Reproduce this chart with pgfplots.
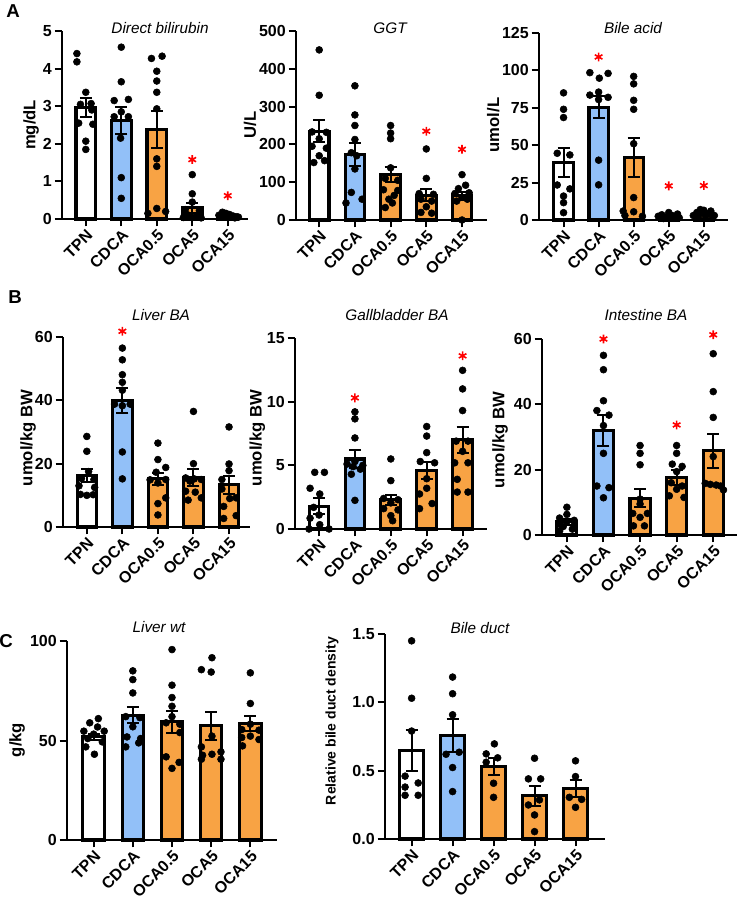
\documentclass[border=0pt]{standalone}
\usepackage{pgfplots}
\pgfplotsset{compat=1.18}
\usepackage{fontspec}
\setmainfont{Liberation Sans}
\definecolor{cblue}{RGB}{146,192,248}
\definecolor{corange}{RGB}{248,163,68}
\newcommand{\bfs}{\bfseries\fontsize{12}{14}\selectfont}
\newcommand{\bfl}{\bfseries\fontsize{12.5}{14}\selectfont}
\newcommand{\its}{\itshape\fontsize{11.5}{13}\selectfont}
\pgfplotsset{
 panel/.style={
  scale only axis, anchor=south west,
  axis lines=left, axis line style={line width=1.5pt,-},
  tick style={line width=1.5pt,black},
  tick align=outside, major tick length=5.5pt,
  xtick={0,1,2,3,4}, xticklabels={TPN,CDCA,OCA0.5,OCA5,OCA15},
  x tick label style={rotate=45, anchor=north east, inner sep=1pt, font=\bfs},
  y tick label style={font=\bfs, inner sep=2pt},
  /pgf/number format/assume math mode=true,
  ymin=0, clip=false,
 },
 bs/.style={ybar, bar shift=0pt, bar width=0.55, draw=black, line width=2.3pt,
   error bars/y dir=both, error bars/y explicit,
   error bars/error bar style={line width=1.5pt,black},
   error bars/error mark options={rotate=90,line width=1.5pt,black,mark size=4.5pt}},
 dots/.style={only marks, mark=*, mark size=2.6pt, black, mark options={fill=black, draw=black}},
 star/.style={only marks, mark=asterisk, mark size=3.3pt, red, mark options={line width=1.2pt}},
}
\begin{document}
\begin{tikzpicture}
\useasboundingbox (0,0) rectangle (554.25pt,-674.25pt);

% ---------------- A1 Direct bilirubin
\begin{axis}[panel, at={(46.5pt,-164.25pt)}, width=139.5pt, height=141pt,
  xmin=-0.67, xmax=4.57, ymax=5, ytick={0,1,2,3,4,5}]
\addplot[bs, fill=white] coordinates {(0,2.97) +- (0,0.26)};
\addplot[bs, fill=cblue] coordinates {(1,2.62) +- (0,0.37)};
\addplot[bs, fill=corange] coordinates {(2,2.38) +- (0,0.50)};
\addplot[bs, fill=corange] coordinates {(3,0.30) +- (0,0.13)};
\addplot[bs, fill=corange] coordinates {(4,0.08) +- (0,0.02)};
\addplot[dots] coordinates {(-0.25,4.40) (-0.25,4.18) (0,3.37) (-0.15,3.05) (0.15,3.07) (0.17,2.90) (-0.2,2.55) (0.2,2.52) (0,2.07) (0,1.85)
 (1,4.57) (1,3.65) (0.8,3.15) (1.2,3.18) (1,2.85) (0.8,2.72) (1.2,2.72) (0.98,2.15) (1,1.10) (1,0.55)
 (1.85,4.27) (2.15,4.33) (2,3.93) (2,3.67) (2,3.37) (2,2.93) (2,1.60) (2,1.40) (2,0.28) (1.75,0.15) (2.25,0.20)
 (3,1.18) (3,0.67) (3,0.45) (2.8,0.25) (3.2,0.22) (2.85,0.12) (3.15,0.10) (3,0.05) (2.75,0.04) (3.25,0.03)
 (3.75,0.10) (3.85,0.18) (3.95,0.15) (4.05,0.12) (4.15,0.08) (4.25,0.06) (3.8,0.05) (4.0,0.04) (4.2,0.03) (4.3,0.05)};
\addplot[star] coordinates {(3,1.58) (4,0.62)};
\end{axis}

% ---------------- A2 GGT
\begin{axis}[panel, at={(222pt,-165pt)}, width=143.25pt, height=141.75pt,
  xmin=-0.65, xmax=4.70, ymax=500, ytick={0,100,200,300,400,500}]
\addplot[bs, fill=white] coordinates {(0,235) +- (0,29)};
\addplot[bs, fill=cblue] coordinates {(1,173) +- (0,30)};
\addplot[bs, fill=corange] coordinates {(2,121) +- (0,20)};
\addplot[bs, fill=corange] coordinates {(3,66) +- (0,15)};
\addplot[bs, fill=corange] coordinates {(4,64) +- (0,11)};
\addplot[dots] coordinates {(0,450) (0,330) (-0.2,233) (0.2,232) (0,215) (-0.2,195) (0.2,190) (0,170) (-0.15,152) (0.15,157)
 (1,355) (1,278) (1,250) (1,213) (0.9,178) (1.05,170) (1,135) (0.9,73) (1.2,55) (0.75,45)
 (2,250) (2,230) (2,215) (2,138) (1.85,110) (2.2,105) (1.8,80) (2.2,78) (2.1,65) (1.95,55) (2.05,45) (1.85,33)
 (3,188) (3,110) (2.8,70) (3.2,68) (2.85,55) (3.15,50) (3,35) (2.85,20) (3.15,18)
 (4,120) (4.1,92) (3.9,83) (4.2,72) (3.8,70) (4,60) (4.15,55) (3.85,50) (4,0)};
\addplot[star] coordinates {(3,235) (4,187)};
\end{axis}

% ---------------- A3 Bile acid
\begin{axis}[panel, at={(404.25pt,-165pt)}, width=141.75pt, height=140.25pt,
  xmin=-0.7, xmax=4.69, ymax=125, ytick={0,25,50,75,100,125}]
\addplot[bs, fill=white] coordinates {(0,38.5) +- (0,9.5)};
\addplot[bs, fill=cblue] coordinates {(1,75.5) +- (0,7.5)};
\addplot[bs, fill=corange] coordinates {(2,42) +- (0,13)};
\addplot[bs, fill=corange] coordinates {(3,2.8) +- (0,0.5)};
\addplot[bs, fill=corange] coordinates {(4,4) +- (0,0.7)};
\addplot[dots] coordinates {(0,85) (0,74) (0,68.5) (-0.18,44.6) (0.18,43.5) (-0.18,23.4) (0.18,20.8) (0,16) (0,11.6) (0,4.9)
 (0.75,98.5) (1.27,98) (1.02,94.8) (1,85.5) (0.75,83.5) (1.27,82) (1,80.5) (1,40) (1,23.5)
 (2,96) (2,91) (2,80) (2,74) (2,51) (2,15) (1.7,6) (2,5.5) (1.75,3) (2.25,2.5)
 (2.7,2.5) (2.8,3.5) (2.9,2) (3,5) (3.1,3) (3.2,2.5) (3.3,1.5) (2.85,1) (3.05,2) (3.25,4)
 (3.7,3) (3.8,5) (3.9,7) (4,6.5) (4.1,4) (4.2,6) (4.3,3) (3.85,2) (4.05,2.5) (4.25,1.5)};
\addplot[star] coordinates {(1,109) (3,22.8) (4,23)};
\end{axis}

% ---------------- B1 Liver BA
\begin{axis}[panel, at={(47.25pt,-395.25pt)}, width=140.25pt, height=142.5pt,
  xmin=-0.67, xmax=4.59, ymax=60, ytick={0,20,40,60}]
\addplot[bs, fill=white] coordinates {(0,16.3) +- (0,2)};
\addplot[bs, fill=cblue] coordinates {(1,40) +- (0,4)};
\addplot[bs, fill=corange] coordinates {(2,15.2) +- (0,2)};
\addplot[bs, fill=corange] coordinates {(3,15.5) +- (0,2.7)};
\addplot[bs, fill=corange] coordinates {(4,13.3) +- (0,2.8)};
\addplot[dots] coordinates {(0,28.6) (0,23.9) (0.05,17.5) (-0.15,15.3) (0.2,15.0) (-0.22,13.0) (0.22,12.5) (-0.18,10.3) (0.18,10.2) (0,10.0)
 (1,56.5) (1,52.8) (1,48.1) (1,45.7) (1,43.2) (0.78,38.8) (1.22,38.8) (1,38.3) (1,23.7) (1,15.2)
 (2,26.5) (2,21.3) (2.22,18.8) (1.95,17.3) (1.78,14.9) (2.22,15.0) (2,13.9) (2.22,9.2) (2,7.4) (2,3.8)
 (3,36.5) (3,20) (2.78,15.5) (3.02,15.2) (3.22,15.0) (2.9,14.5) (2.78,11.3) (3.05,11) (3.22,9.2) (2.85,8.5)
 (4,31.6) (4,19.9) (4,17.8) (3.8,15) (3.8,12) (4.2,9.2) (4.02,9) (3.85,6.5) (4.2,3.6) (3.85,2.7)};
\addplot[star] coordinates {(1,61.8)};
\end{axis}

% ---------------- B2 Gallbladder BA
\begin{axis}[panel, at={(221.25pt,-396.75pt)}, width=144pt, height=143.25pt,
  xmin=-0.67, xmax=4.68, ymax=15, ytick={0,5,10,15}]
\addplot[bs, fill=white] coordinates {(0,1.8) +- (0,0.6)};
\addplot[bs, fill=cblue] coordinates {(1,5.5) +- (0,0.7)};
\addplot[bs, fill=corange] coordinates {(2,2.3) +- (0,0.4)};
\addplot[bs, fill=corange] coordinates {(3,4.6) +- (0,0.7)};
\addplot[bs, fill=corange] coordinates {(4,7.0) +- (0,1.0)};
\addplot[dots] coordinates {(-0.12,4.45) (0.15,4.45) (-0.25,3.2) (0.02,2.75) (-0.15,1.7) (0,1.1) (-0.25,0.85) (0.02,0.34) (-0.28,0) (0.28,0)
 (1,9.2) (1,8.65) (1,7.15) (1,5.3) (0.78,5.1) (1.22,5.0) (0.95,4.9) (1.15,4.7) (0.9,4.3) (1,2.25)
 (2,5.5) (2,3.8) (1.8,2.4) (2.2,2.3) (2,2.05) (1.8,1.6) (2.2,1.5) (2,1.05) (2.05,0.65)
 (3,8.05) (3,7.3) (3,6.0) (2.82,5.3) (3.22,5.2) (3,3.95) (3,3.2) (2.8,2.75) (3.15,2.0) (2.8,1.6)
 (4,12.46) (4,11.0) (4,9.3) (3.82,6.9) (4.15,6.9) (4,6.1) (3.78,5.2) (4.15,5.2) (3.85,3.9) (3.85,2.9) (4.15,2.9)};
\addplot[star] coordinates {(1,10.3) (4,13.6)};
\end{axis}

% ---------------- B3 Intestine BA
\begin{axis}[panel, at={(406.5pt,-401.25pt)}, width=146.25pt, height=147pt,
  xmin=-0.68, xmax=4.65, ymax=60, ytick={0,20,40,60}]
\addplot[bs, fill=white] coordinates {(0,4.0) +- (0,0.8)};
\addplot[bs, fill=cblue] coordinates {(1,32) +- (0,4.7)};
\addplot[bs, fill=corange] coordinates {(2,11.3) +- (0,2.8)};
\addplot[bs, fill=corange] coordinates {(3,17.6) +- (0,2.2)};
\addplot[bs, fill=corange] coordinates {(4,25.8) +- (0,5.2)};
\addplot[dots] coordinates {(0,8.5) (0,6.3) (-0.2,5.2) (0.2,4.5) (0,4.0) (-0.2,3.3) (0.2,2.9) (-0.1,2.6) (0.15,1.8) (-0.2,1.2)
 (1,55) (1,50.6) (1,41.1) (0.82,38.1) (1.15,36.7) (1,33.5) (1,25) (0.82,15) (1.15,14.5) (1,11.4)
 (2,27.4) (2,25) (2,21.5) (2,11) (2,9.5) (1.8,6.6) (2.2,6.6) (2,5.4) (1.82,2.8) (2.12,2.8)
 (3,27.4) (3,25) (2.88,21.7) (3.15,21) (3,19.4) (2.85,16) (3.15,15) (3,14) (2.8,12) (3.2,11.5)
 (4,55.5) (4,43.9) (4,36) (4,24) (3.78,15.8) (3.92,15.5) (4.08,15.3) (4.2,15) (4.28,13.8)};
\addplot[star] coordinates {(1,60) (3,33.7) (4,61.3)};
\end{axis}

% ---------------- C1 Liver wt
\begin{axis}[panel, at={(50.25pt,-630pt)}, width=157.5pt, height=149.25pt,
  xmin=-0.68, xmax=4.68, ymax=100, ytick={0,50,100}]
\addplot[bs, fill=white] coordinates {(0,52) +- (0,1.5)};
\addplot[bs, fill=cblue] coordinates {(1,62.8) +- (0,4)};
\addplot[bs, fill=corange] coordinates {(2,59.5) +- (0,5.5)};
\addplot[bs, fill=corange] coordinates {(3,57.5) +- (0,7)};
\addplot[bs, fill=corange] coordinates {(4,58.5) +- (0,3.8)};
\addplot[dots] coordinates {(0.12,61) (-0.1,58.9) (0.1,56.8) (-0.25,54.7) (0.27,54.7) (0,53.2) (-0.15,51) (0.22,49.3) (-0.2,46.8) (0.02,43.1)
 (1,85) (1,80.6) (1,73.9) (0.82,62) (1.18,61.5) (1,56.9) (0.85,51.8) (1.2,51) (1.15,48.8) (0.82,46.8)
 (2,95.7) (2,77.8) (2,71.6) (2,67.2) (2,62) (1.85,58.9) (2.2,58.2) (2.2,54) (1.85,41.8) (2.18,39) (2,36)
 (3.02,91.6) (2.75,85.6) (3,84.4) (3.02,52.2) (2.75,46.8) (2.78,42.6) (3.02,43.1) (3.25,44.3) (2.75,40.6) (3.25,40.6)
 (4,84) (4,68.6) (4,58.2) (3.78,55.5) (4.22,55.2) (4,52.2) (3.78,51.5) (4.22,50.5) (3.8,47.3)};
\end{axis}

% ---------------- C2 Bile duct
\begin{axis}[panel, at={(288.75pt,-629.25pt)}, width=165pt, height=153.75pt,
  xmin=-0.65, xmax=4.72, ymax=1.5, ytick={0,0.5,1,1.5},
  yticklabel style={/pgf/number format/.cd, fixed, fixed zerofill, precision=1}]
\addplot[bs, bar width=0.59, fill=white] coordinates {(0,0.645) +- (0,0.15)};
\addplot[bs, bar width=0.59, fill=cblue] coordinates {(1,0.755) +- (0,0.12)};
\addplot[bs, bar width=0.59, fill=corange] coordinates {(2,0.53) +- (0,0.065)};
\addplot[bs, bar width=0.59, fill=corange] coordinates {(3,0.315) +- (0,0.075)};
\addplot[bs, bar width=0.59, fill=corange] coordinates {(4,0.37) +- (0,0.065)};
\addplot[dots] coordinates {(0,1.45) (0,1.03) (0,0.79) (-0.16,0.46) (0.16,0.41) (-0.16,0.38) (-0.16,0.32) (0.16,0.32)
 (1,1.185) (1,1.063) (1,0.909) (0.84,0.62) (1.16,0.635) (1,0.523) (1,0.347)
 (2.02,0.696) (1.82,0.623) (1.82,0.562) (2.1,0.594) (2,0.408) (2,0.305)
 (3,0.591) (2.85,0.44) (3.15,0.44) (2.85,0.249) (3.12,0.286) (3,0.176) (3,0.054)
 (4,0.572) (4,0.457) (3.85,0.305) (4.15,0.29) (4,0.232)};
\end{axis}

% ---------------- titles
\node[font=\its] at (120pt,-21pt) {Direct bilirubin};
\node[font=\its] at (292.5pt,-21pt) {GGT};
\node[font=\its] at (474.75pt,-21pt) {Bile acid};
\node[font=\its] at (120.75pt,-236.25pt) {Liver BA};
\node[font=\its] at (297.75pt,-236.25pt) {Gallbladder BA};
\node[font=\its] at (484.5pt,-236.25pt) {Intestine BA};
\node[font=\its] at (119.25pt,-470.25pt) {Liver wt};
\node[font=\its] at (360pt,-471pt) {Bile duct};
% ---------------- y labels
\node[font=\bfl, rotate=90] at (23.25pt,-93.75pt) {mg/dL};
\node[font=\bfl, rotate=90] at (187.5pt,-93.75pt) {U/L};
\node[font=\bfl, rotate=90] at (370pt,-93.75pt) {umol/L};
\node[font=\bfl, rotate=90] at (21pt,-328.5pt) {umol/kg BW};
\node[font=\bfl, rotate=90] at (193pt,-328.5pt) {umol/kg BW};
\node[font=\bfl, rotate=90] at (375pt,-330pt) {umol/kg BW};
\node[font=\bfl, rotate=90] at (12.75pt,-555pt) {g/kg};
\node[font=\bfseries\fontsize{10.5}{12}\selectfont, rotate=90] at (249pt,-540.75pt) {Relative bile duct density};
% ---------------- panel letters
\node[font=\bfseries\fontsize{14}{16}\selectfont] at (9.75pt,-8.25pt) {A};
\node[font=\bfseries\fontsize{14}{16}\selectfont] at (11.25pt,-222.75pt) {B};
\node[font=\bfseries\fontsize{14}{16}\selectfont] at (4.5pt,-480.75pt) {C};
\end{tikzpicture}
\end{document}
